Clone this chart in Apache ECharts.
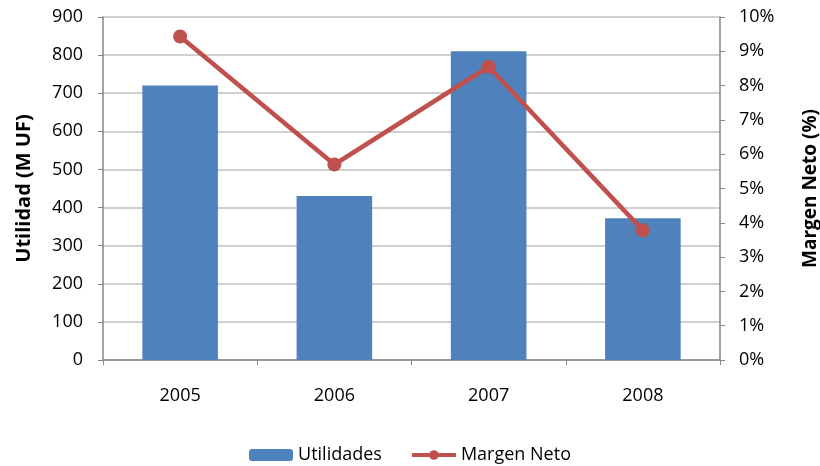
<!DOCTYPE html>
<html>
<head>
<meta charset="utf-8">
<script src="https://cdn.jsdelivr.net/npm/echarts@6/dist/echarts.min.js"></script>
<style>
  html, body { margin: 0; padding: 0; background: #fff; }
  #chart { width: 820px; height: 466px; }
</style>
</head>
<body>
<div id="chart"></div>
<script>
const years = ['2005', '2006', '2007', '2008'];
const utilidades = [720, 430, 810, 372];
const margenNeto = [9.43, 5.7, 8.55, 3.78];

const font = '"Open Sans", Lato, sans-serif';
const axisGray = '#868686';

const chart = echarts.init(document.getElementById('chart'));
chart.setOption({
  animation: false,
  textStyle: { fontFamily: font },
  grid: { left: 103, right: 100, top: 17, bottom: 106, outerBoundsMode: 'none' },
  legend: {
    top: 441,
    left: 'center',
    itemWidth: 44,
    itemHeight: 12,
    itemGap: 28,
    textStyle: { fontSize: 18, color: '#000', fontFamily: font },
    data: [
      { name: 'Utilidades' },
      { name: 'Margen Neto', lineStyle: { width: 4 } }
    ]
  },
  xAxis: {
    type: 'category',
    data: years,
    axisLine: { lineStyle: { color: axisGray, width: 1.5 } },
    axisTick: { show: true, length: 5, lineStyle: { color: axisGray } },
    axisLabel: { fontSize: 18, color: '#000', margin: 27, fontFamily: font }
  },
  yAxis: [
    {
      type: 'value',
      min: 0, max: 900, interval: 100,
      name: 'Utilidad (M UF)',
      nameLocation: 'middle',
      nameGap: 69,
      nameTextStyle: { fontSize: 20, fontWeight: 'bold', color: '#000', fontFamily: font },
      axisLine: { show: true, lineStyle: { color: axisGray, width: 1.5 } },
      axisTick: { show: true, length: 5, lineStyle: { color: axisGray } },
      axisLabel: { fontSize: 18, color: '#000', margin: 20, fontFamily: font },
      splitLine: { lineStyle: { color: '#c0c0c0', width: 1.5 } }
    },
    {
      type: 'value',
      min: 0, max: 10, interval: 1,
      name: 'Margen Neto (%)',
      nameLocation: 'middle',
      nameGap: 81,
      nameRotate: 90,
      nameTextStyle: { fontSize: 19, fontWeight: 'bold', color: '#000', fontFamily: font },
      axisLine: { show: true, lineStyle: { color: axisGray, width: 1.5 } },
      axisTick: { show: true, length: 5, lineStyle: { color: axisGray } },
      axisLabel: { fontSize: 18, color: '#000', margin: 19, formatter: '{value}%', fontFamily: font },
      splitLine: { show: false }
    }
  ],
  series: [
    {
      name: 'Utilidades',
      type: 'bar',
      yAxisIndex: 0,
      barWidth: '49%',
      itemStyle: { color: '#4f81bd' },
      data: utilidades
    },
    {
      name: 'Margen Neto',
      type: 'line',
      yAxisIndex: 1,
      symbol: 'circle',
      symbolSize: 14,
      lineStyle: { color: '#c0504d', width: 4.5 },
      itemStyle: { color: '#c0504d' },
      data: margenNeto
    }
  ]
});
</script>
</body>
</html>
